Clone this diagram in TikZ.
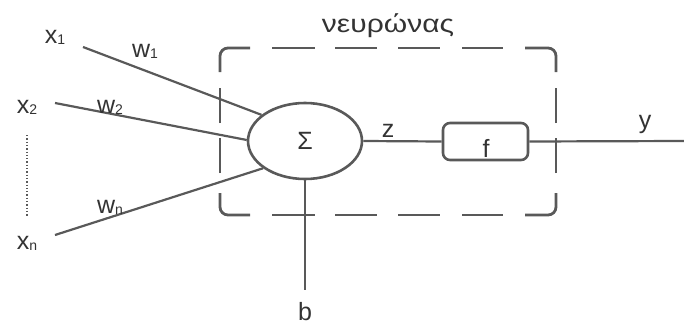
\documentclass[tikz,border=0pt]{standalone}
\usepackage{fontspec}
\usepackage{graphicx}
\setmainfont{Liberation Sans}
\usetikzlibrary{shapes.geometric}
\definecolor{ln}{HTML}{595959}
\definecolor{tx}{HTML}{333333}
\newcommand{\subidx}[1]{\raisebox{-1pt}{\fontsize{14}{14}\selectfont #1}}
\begin{document}
\begin{tikzpicture}[x=1pt,y=1pt,
  wire/.style={draw=ln,line width=2.2pt},
  lbl/.style={text=tx,font=\fontsize{25}{25}\selectfont,inner sep=0pt,anchor=base},
  boxline/.style={draw=ln,line width=2.8pt,line cap=butt},
  sumnode/.style={ellipse,draw=ln,line width=2.6pt,minimum width=114pt,minimum height=76pt,inner sep=0pt,text=tx,font=\fontsize{25}{25}\selectfont},
  fnode/.style={rectangle,draw=ln,line width=2.6pt,rounded corners=7pt,minimum width=85pt,minimum height=37pt,inner sep=0pt}]
\useasboundingbox (0,0) rectangle (684,325);

% dashed neuron box
\begin{scope}[boxline,rounded corners=8pt]
  \draw (220,253) -- (220,277) -- (250,277);
  \draw (525,277) -- (556,277) -- (556,253);
  \draw (220,132) -- (220,110) -- (250,110);
  \draw (525,110) -- (556,110) -- (556,132);
\end{scope}
\foreach \a/\b in {272/315,335/377,398/440,462/503}{
  \draw[boxline] (\a,277) -- (\b,277);
  \draw[boxline] (\a,110) -- (\b,110);
}
\foreach \a/\b in {202/237,152/187}{
  \draw[boxline] (220,\a) -- (220,\b);
  \draw[boxline] (556,\a) -- (556,\b);
}

% nodes
\node[sumnode] (sum) at (305,184) {Σ};
\node[fnode] (f) at (485.5,183.5) {};
\node[lbl] (flab) at (486,168) {f};

\coordinate (s1) at (83,278);
\coordinate (s2) at (55,222);
\coordinate (sn) at (55,90);
\coordinate (out) at (684,184);
\coordinate (bend) at (305,35);
\coordinate (d1) at (27,190);
\coordinate (d2) at (27,109);

% connectors
\draw[wire] (s1) -- (sum.149);
\draw[wire] (s2) -- (sum.179);
\draw[wire] (sn) -- (sum.213);
\draw[wire] (sum.east) -- (f.west);
\draw[wire] (f.east) -- (out);
\draw[wire] (sum.south) -- (bend);
\draw[draw=ln,line width=1.3pt,dash pattern=on 1.3pt off 2pt] (d1) -- (d2);

% labels
\node[lbl] (x1) at (55,282) {x\subidx{1}};
\node[lbl] (w1) at (145,268) {w\subidx{1}};
\node[lbl] (x2) at (27,212) {x\subidx{2}};
\node[lbl] (w2) at (110,212) {w\subidx{2}};
\node[lbl] (xn) at (27,76) {x\subidx{n}};
\node[lbl] (wn) at (110,112) {w\subidx{n}};
\node[lbl] (title) at (388,293) {\scalebox{1.2}[1]{νευρώνας}};
\node[lbl] (z) at (388,188) {z};
\node[lbl] (y) at (645,197) {y};
\node[lbl] (b) at (305,5) {b};
\end{tikzpicture}
\end{document}
